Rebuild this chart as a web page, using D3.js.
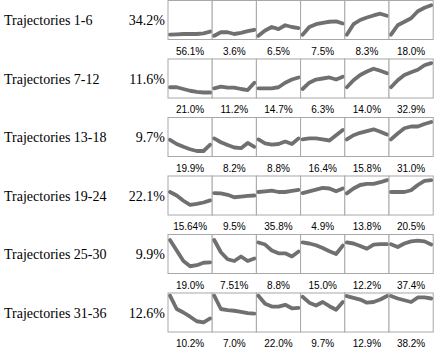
<!DOCTYPE html>
<html>
<head>
<meta charset="utf-8">
<script src="https://cdn.jsdelivr.net/npm/d3@7"></script>
<style>
  body { margin: 0; background: #fff; }
  svg { display: block; }
  .serif { font-family: "Liberation Serif", "DejaVu Serif", serif; font-size: 14px; }
  .sans { font-family: "Liberation Sans", Arial, sans-serif; font-size: 10px; }
</style>
</head>
<body>
<div id="graph"></div>
<script>
// row labels and their shares
var groups = ["Trajectories 1-6", "Trajectories 7-12", "Trajectories 13-18",
              "Trajectories 19-24", "Trajectories 25-30", "Trajectories 31-36"]
var groupShare = ["34.2%", "11.6%", "9.7%", "22.1%", "9.9%", "12.6%"]

// share of each trajectory (label under each small chart)
var cellShare = [
  ["56.1%", "3.6%", "6.5%", "7.5%", "8.3%", "18.0%"],
  ["21.0%", "11.2%", "14.7%", "6.3%", "14.0%", "32.9%"],
  ["19.9%", "8.2%", "8.8%", "16.4%", "15.8%", "31.0%"],
  ["15.64%", "9.5%", "35.8%", "4.9%", "13.8%", "20.5%"],
  ["19.0%", "7.51%", "8.8%", "15.0%", "12.2%", "37.4%"],
  ["10.2%", "7.0%", "22.0%", "9.7%", "12.9%", "38.2%"]
]

// trajectory values (0 = low, 1 = high), 7 time points each
var traj1_6 = [
  [0.08, 0.09, 0.1, 0.1, 0.1, 0.12, 0.17],
  [0.05, 0.15, 0.15, 0.1, 0.13, 0.18, 0.22],
  [0.05, 0.2, 0.3, 0.24, 0.35, 0.3, 0.27],
  [0.08, 0.3, 0.38, 0.42, 0.45, 0.46, 0.4],
  [0.08, 0.38, 0.5, 0.57, 0.63, 0.68, 0.62],
  [0.08, 0.35, 0.45, 0.55, 0.75, 0.85, 0.92]
]
var traj7_12 = [
  [0.25, 0.25, 0.2, 0.15, 0.12, 0.1, 0.1],
  [0.22, 0.27, 0.24, 0.24, 0.2, 0.17, 0.38],
  [0.22, 0.22, 0.22, 0.25, 0.38, 0.47, 0.53],
  [0.2, 0.38, 0.47, 0.5, 0.53, 0.47, 0.55],
  [0.25, 0.45, 0.6, 0.7, 0.78, 0.72, 0.65],
  [0.25, 0.45, 0.6, 0.68, 0.75, 0.88, 0.94]
]
var traj13_18 = [
  [0.42, 0.3, 0.22, 0.15, 0.1, 0.1, 0.28],
  [0.46, 0.35, 0.27, 0.2, 0.18, 0.33, 0.22],
  [0.43, 0.32, 0.28, 0.3, 0.37, 0.3, 0.46],
  [0.43, 0.46, 0.46, 0.43, 0.4, 0.55, 0.7],
  [0.43, 0.55, 0.62, 0.67, 0.72, 0.65, 0.57],
  [0.43, 0.6, 0.75, 0.8, 0.8, 0.87, 0.93]
]
var traj19_24 = [
  [0.6, 0.5, 0.35, 0.23, 0.26, 0.3, 0.36],
  [0.57, 0.56, 0.52, 0.45, 0.47, 0.49, 0.5],
  [0.6, 0.62, 0.64, 0.6, 0.6, 0.63, 0.66],
  [0.57, 0.62, 0.67, 0.72, 0.7, 0.62, 0.7],
  [0.56, 0.7, 0.8, 0.83, 0.83, 0.88, 0.94],
  [0.6, 0.6, 0.6, 0.65, 0.8, 0.92, 0.94]
]
var traj25_30 = [
  [0.9, 0.6, 0.3, 0.15, 0.18, 0.25, 0.26],
  [0.9, 0.55, 0.35, 0.3, 0.43, 0.3, 0.37],
  [0.83, 0.77, 0.6, 0.52, 0.52, 0.43, 0.57],
  [0.83, 0.8, 0.75, 0.67, 0.58, 0.5, 0.74],
  [0.83, 0.8, 0.73, 0.65, 0.77, 0.78, 0.78],
  [0.78, 0.7, 0.8, 0.86, 0.88, 0.86, 0.77]
]
var traj31_36 = [
  [0.98, 0.6, 0.5, 0.38, 0.25, 0.22, 0.33],
  [0.98, 0.6, 0.57, 0.55, 0.52, 0.48, 0.47],
  [0.98, 0.75, 0.67, 0.67, 0.72, 0.62, 0.63],
  [0.95, 0.78, 0.7, 0.8, 0.68, 0.58, 0.8],
  [0.97, 0.92, 0.87, 0.78, 0.8, 0.87, 0.97],
  [0.97, 0.9, 0.85, 0.8, 0.93, 0.93, 0.9]
]
var trajectories = [traj1_6, traj7_12, traj13_18, traj19_24, traj25_30, traj31_36]
var timePoints = [0, 1, 2, 3, 4, 5, 6]

var width = 437, height = 352
var cellW = 44.2, cellH = 39
var gridLeft = 168, rowPitch = 58.5

var svg = d3.select("#graph").append("svg")
    .attr("width", width).attr("height", height)

var colScale = d3.scaleBand().domain(d3.range(6))
    .range([gridLeft, gridLeft + 6 * cellW])
var rowScale = d3.scaleBand().domain(d3.range(6))
    .range([0.5, 0.5 + 6 * rowPitch])

var xIn = d3.scaleLinear().domain(d3.extent(timePoints)).range([2, cellW - 2])
var yIn = d3.scaleLinear().domain([0, 1]).range([cellH - 2, 2])

var line = d3.line()
    .x(function(d, i) { return xIn(timePoints[i]) })
    .y(function(d) { return yIn(d) })

var rows = svg.selectAll("g.row")
    .data(groups)
    .enter().append("g")
    .attr("class", "row")
    .attr("transform", function(d, i) { return "translate(0," + rowScale(i) + ")" })

rows.append("text")
    .attr("class", "serif")
    .attr("x", 4)
    .attr("y", cellH / 2 + 5)
    .text(function(d) { return d })

rows.append("text")
    .attr("class", "serif")
    .attr("x", 165)
    .attr("y", cellH / 2 + 5)
    .attr("text-anchor", "end")
    .text(function(d, i) { return groupShare[i] })

var cells = rows.selectAll("g.cell")
    .data(function(d, i) {
        return trajectories[i].map(function(v, j) { return {values: v, label: cellShare[i][j], col: j} })
    })
    .enter().append("g")
    .attr("class", "cell")
    .attr("transform", function(d) { return "translate(" + colScale(d.col) + ",0)" })

cells.append("rect")
    .attr("width", cellW)
    .attr("height", cellH)
    .attr("fill", "#fff")
    .attr("stroke", "#a8a8a8")
    .attr("stroke-width", 1)

cells.append("path")
    .attr("d", function(d) { return line(d.values) })
    .attr("fill", "none")
    .attr("stroke", "#707070")
    .attr("stroke-width", 3.8)
    .attr("stroke-linejoin", "round")
    .attr("stroke-linecap", "round")

cells.append("text")
    .attr("class", "sans")
    .attr("x", cellW / 2)
    .attr("y", cellH + 15)
    .attr("text-anchor", "middle")
    .text(function(d) { return d.label })
</script>
</body>
</html>
